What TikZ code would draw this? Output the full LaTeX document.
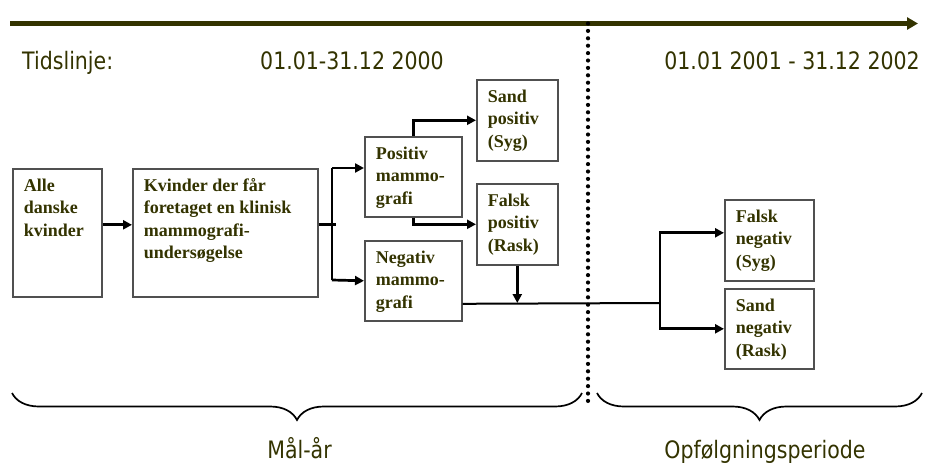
\documentclass[tikz,border=0pt]{standalone}
\usepackage{fontspec}
\setmainfont{Liberation Serif}
\newfontfamily\tah[FakeStretch=0.855]{DejaVu Sans}
\usetikzlibrary{arrows.meta,decorations.pathreplacing}
\definecolor{olv}{RGB}{51,51,0}
\definecolor{bgray}{RGB}{80,80,80}
\newcommand\bxt[3]{\parbox[c][#2pt][t]{#1pt}{\raggedright\leftskip=11pt\rule{0pt}{22.5pt}#3}}
\begin{document}
\begin{tikzpicture}[x=1pt,y=-1pt,
  box/.style={draw=bgray,line width=1.6pt,inner sep=0pt,anchor=north west,text=olv,font=\fontsize{18}{22.4}\selectfont\bfseries},
  conn/.style={line width=2.7pt,black},
  thinline/.style={line width=2pt,black},
  arr/.style={-{Triangle[length=9pt,width=9pt]}},
  lbl/.style={inner sep=0pt,text=olv,font=\tah\fontsize{24}{28}\selectfont},
  brc/.style={line width=1.7pt,decorate,decoration={brace,mirror,amplitude=27pt}}]
\useasboundingbox (0,0) rectangle (927,464);
% timeline
\coordinate (tl) at (10,23.5);
\coordinate (tr) at (918,23.5);
\draw[olv,line width=4.8pt,-{Triangle[length=11pt,width=12pt]}] (tl) -- (tr);
\coordinate (dtop) at (588,23.5);
\coordinate (dbot) at (588,401);
\draw[line width=4.2pt,line cap=round,dash pattern=on 0pt off 7.4pt] (dtop) -- (dbot);
% labels
\node[lbl,anchor=base west] (tid) at (22,69) {Tidslinje:};
\node[lbl,anchor=base west] (p1) at (260,69) {01.01-31.12 2000};
\node[lbl,anchor=base east] (p2) at (920,69) {01.01 2001 - 31.12 2002};
% boxes
\node[box] (alle) at (12,168) {\bxt{89}{128}{Alle\\danske\\kvinder}};
\node[box] (kv) at (132,168) {\bxt{185}{128}{Kvinder der får\\foretaget en klinisk\\mammografi-\\undersøgelse}};
\node[box] (pos) at (364,136) {\bxt{97}{80}{Positiv\\mammo-\\grafi}};
\node[box] (neg) at (364,240) {\bxt{97}{80}{Negativ\\mammo-\\grafi}};
\node[box] (sp) at (476,79) {\bxt{81}{81}{Sand\\positiv\\(Syg)}};
\node[box] (fp) at (476,183) {\bxt{81}{81}{Falsk\\positiv\\(Rask)}};
\node[box] (fn) at (724,199) {\bxt{89}{81}{Falsk\\negativ\\(Syg)}};
\node[box] (sn) at (724,288) {\bxt{89}{80}{Sand\\negativ\\(Rask)}};
% connectors
\draw[conn,arr] ([yshift=8pt]alle.east) -- ([yshift=8pt]kv.west);
\coordinate (s1) at (332,168);
\coordinate (s2) at (332,280);
\draw[conn] ([yshift=8pt]kv.east) -- ++(17,0);
\draw[conn] (s1) -- (s2);
\draw[conn,arr] (s1) -- (s1 -| pos.west);
\draw[conn,arr] (s2) -- (neg.west);
\draw[conn,arr] (pos.north) |- (sp.west);
\draw[conn,arr] (pos.south) |- (fp.west);
\coordinate (j) at (660,303);
\draw[thinline] ([yshift=-23pt]neg.east) -- (j);
\draw[conn,arr] (fp.south) -- (fp.south |- j);
\draw[conn,arr] (j) |- ([yshift=7.5pt]fn.west);
\draw[conn,arr] (j) |- (sn.west);
% braces
\coordinate (b1) at (12,393);
\coordinate (b2) at (582,393);
\coordinate (b3) at (597,393);
\coordinate (b4) at (922,393);
\draw[brc] (b1) -- (b2);
\draw[brc] (b3) -- (b4);
\node[lbl,anchor=base] (maal) at (299.5,458) {Mål-år};
\node[lbl,anchor=base] (opf) at (765,458) {Opfølgningsperiode};
\end{tikzpicture}
\end{document}
